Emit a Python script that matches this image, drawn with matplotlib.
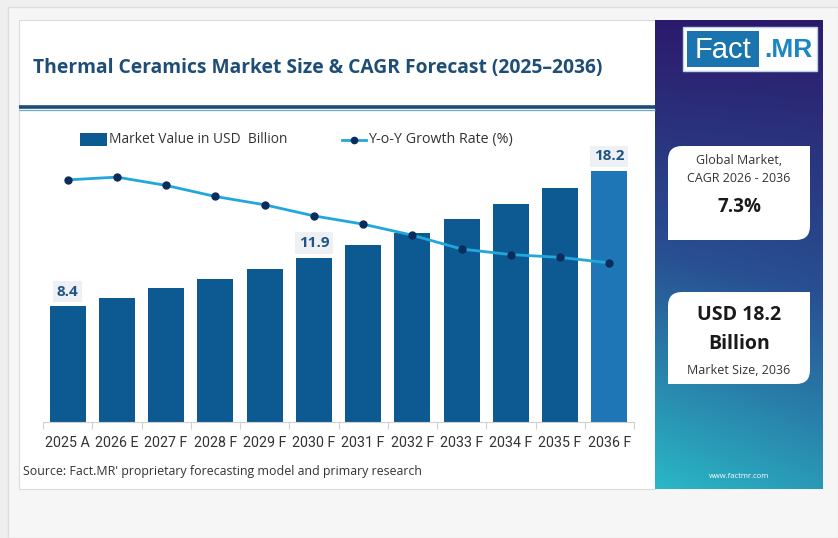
import numpy as np
import matplotlib
matplotlib.use("Agg")
import matplotlib.pyplot as plt
from matplotlib.patches import Rectangle, PathPatch
from matplotlib.path import Path

# ---------------- data ----------------
years = ["2025 A", "2026 E", "2027 F", "2028 F", "2029 F", "2030 F",
         "2031 F", "2032 F", "2033 F", "2034 F", "2035 F", "2036 F"]
market_value = [8.4, 9.0, 9.7, 10.4, 11.1, 11.9, 12.8, 13.7, 14.7, 15.8, 17.0, 18.2]
yoy_growth = [7.9, 8.0, 7.7, 7.3, 7.0, 6.6, 6.3, 5.9, 5.4, 5.2, 5.1, 4.9]
labelled = {0: "8.4", 5: "11.9", 11: "18.2"}
title = "Thermal Ceramics Market Size & CAGR Forecast (2025\u20132036)"
legend_bar = "Market Value in USD  Billion"
legend_line = "Y-o-Y Growth Rate (%)"
source = "Source: Fact.MR' proprietary forecasting model and primary research"
cagr_label = ["Global Market,", "CAGR 2026 - 2036"]
cagr_value = "7.3%"
size_value = ["USD 18.2", "Billion"]
size_label = "Market Size, 2036"

W, H = 838, 538
plt.rcParams['font.family'] = ['Open Sans', 'DejaVu Sans']

fig = plt.figure(figsize=(W / 100, H / 100), dpi=100)
fig.patch.set_facecolor("#efefef")

bg = fig.add_axes([0, 0, 1, 1], zorder=0)
bg.set_xlim(0, W)
bg.set_ylim(H, 0)
bg.axis("off")

# outer frame
bg.add_patch(Rectangle((8, 7), W - 8, H - 7, facecolor="#f6f6f6", edgecolor="#dedede", lw=1))
# white card
bg.add_patch(Rectangle((19, 20), 636, 469, facecolor="white", edgecolor="#dcdcdc", lw=0.8))

# title
bg.text(33, 68, title, fontsize=13.9, fontweight="bold", color="#1e4d78",
        va="center", ha="left")
bg.plot([19, 655], [107, 107], color="#1d4b78", lw=2.6, solid_capstyle="butt")
bg.plot([19, 655], [109.5, 109.5], color="#6aa7d6", lw=0.9, solid_capstyle="butt")

# legend
bar_color = "#0d5a93"
last_color = "#1f76b6"
line_color = "#22a7dd"
mark_color = "#0b2c5c"
bg.add_patch(Rectangle((80, 133), 27, 13, facecolor=bar_color, edgecolor="none"))
bg.text(109, 139.5, legend_bar, fontsize=9.9, color="#333333", va="center", ha="left")
bg.plot([342, 366], [139.5, 139.5], color=line_color, lw=2)
bg.plot([354], [139.5], "o", color=mark_color, ms=4.5)
bg.text(368, 139.5, legend_line, fontsize=10.3, color="#333333", va="center", ha="left")

# source
bg.text(23, 472, source, fontsize=8.9, color="#333333", va="center", ha="left")

# ---------------- right panel ----------------
px0, px1, py0, py1 = 655, 822, 20, 489
gh, gw = 200, 80
yy, xx = np.mgrid[0:1:gh * 1j, 0:1:gw * 1j]
t = np.clip(yy * 0.85 + (1 - xx) * 0.15 * yy, 0, 1)
c_top = np.array([0x2c, 0x1a, 0x6c]) / 255
c_mid = np.array([0x28, 0x50, 0x92]) / 255
c_bot = np.array([0x2a, 0xb8, 0xc6]) / 255
img = np.zeros((gh, gw, 3))
for k in range(3):
    img[..., k] = np.where(t < 0.5,
                           c_top[k] + (c_mid[k] - c_top[k]) * (t / 0.5),
                           c_mid[k] + (c_bot[k] - c_mid[k]) * ((t - 0.5) / 0.5))
bg.imshow(img, extent=[px0, px1, py1, py0], aspect="auto", zorder=1, interpolation="bilinear")
bg.set_xlim(0, W)
bg.set_ylim(H, 0)

# logo
bg.add_patch(Rectangle((683, 27), 134, 44, facecolor="white", edgecolor="#bcd3e6", lw=1, zorder=2))
bg.add_patch(Rectangle((687, 31), 72, 36, facecolor="#1a74ad", edgecolor="none", zorder=3))
bg.text(723, 50, "Fact", fontsize=21, color="white", ha="center", va="center", zorder=4,
        family=["Liberation Sans", "DejaVu Sans"])
bg.text(788, 50, ".MR", fontsize=19, color="#1a86c4", fontweight="bold", ha="center",
        va="center", zorder=4, family=["Liberation Sans", "DejaVu Sans"])


def leaf_box(x0, y0, x1, y1, r):
    verts = [(x0, y0 + r), (x0, y0), (x0 + r, y0),
             (x1, y0),
             (x1, y1 - r), (x1, y1), (x1 - r, y1),
             (x0, y1),
             (x0, y0 + r)]
    codes = [Path.MOVETO, Path.CURVE3, Path.CURVE3,
             Path.LINETO,
             Path.LINETO, Path.CURVE3, Path.CURVE3,
             Path.LINETO,
             Path.CLOSEPOLY]
    return PathPatch(Path(verts, codes), facecolor="white", edgecolor="none", zorder=2)


bg.add_patch(leaf_box(668, 146, 810, 240, 14))
bg.add_patch(leaf_box(668, 292, 810, 384, 14))
bg.text(739, 161, cagr_label[0], fontsize=9, color="#333333", ha="center", va="center", zorder=3)
bg.text(739, 179, cagr_label[1], fontsize=9, color="#333333", ha="center", va="center", zorder=3)
bg.text(739, 207, cagr_value, fontsize=13.5, fontweight="bold", color="#1a1a1a",
        ha="center", va="center", zorder=3)
bg.text(739, 315, size_value[0], fontsize=14, fontweight="bold", color="#1a1a1a",
        ha="center", va="center", zorder=3)
bg.text(739, 344, size_value[1], fontsize=14, fontweight="bold", color="#1a1a1a",
        ha="center", va="center", zorder=3)
bg.text(739, 371, size_label, fontsize=9, color="#333333", ha="center", va="center", zorder=3)
bg.text(739, 477, "www.factmr.com", fontsize=5.5, color="white", ha="center", va="center", zorder=3)

# ---------------- chart ----------------
ax_l, ax_r, ax_b, ax_t = 43, 634, 422, 150
ax = fig.add_axes([ax_l / W, 1 - ax_b / H, (ax_r - ax_l) / W, (ax_b - ax_t) / H], zorder=2)
ax.patch.set_alpha(0)
x = np.arange(len(years))
colors = [bar_color] * (len(years) - 1) + [last_color]
ax.bar(x, market_value, width=0.73, color=colors, zorder=2)
ax.set_xlim(-0.5, len(years) - 0.5)
ax.set_ylim(0, 19.72)
for s in ["top", "right", "left"]:
    ax.spines[s].set_visible(False)
ax.spines["bottom"].set_color("#d0d0d0")
ax.spines["bottom"].set_linewidth(0.8)
ax.set_yticks([])
ax.set_xticks(np.arange(-0.5, len(years), 1.0), minor=False)
ax.set_xticklabels([])
ax.tick_params(axis="x", which="major", length=5, color="#d0d0d0", width=0.8)
ax.set_xticks(x, minor=True)
ax.set_xticklabels(years, minor=True, fontsize=10.3, color="#333333",
                   family=["Roboto", "DejaVu Sans"])
ax.tick_params(axis="x", which="minor", length=0, pad=10)

for i, lab in labelled.items():
    ax.text(i, market_value[i] + 0.55, lab, ha="center", va="bottom", fontsize=11,
            fontweight="bold", color="#1f5586",
            bbox=dict(boxstyle="square,pad=0.25", facecolor="#eef0f3", edgecolor="none"))

ax2 = ax.twinx()
ax2.set_ylim(-0.85, 8.98)
ax2.plot(x, yoy_growth, color=line_color, lw=2, marker="o", ms=5,
         markerfacecolor=mark_color, markeredgecolor=mark_color, zorder=3)
ax2.axis("off")

fig.savefig("out.png", dpi=100, facecolor=fig.get_facecolor())
